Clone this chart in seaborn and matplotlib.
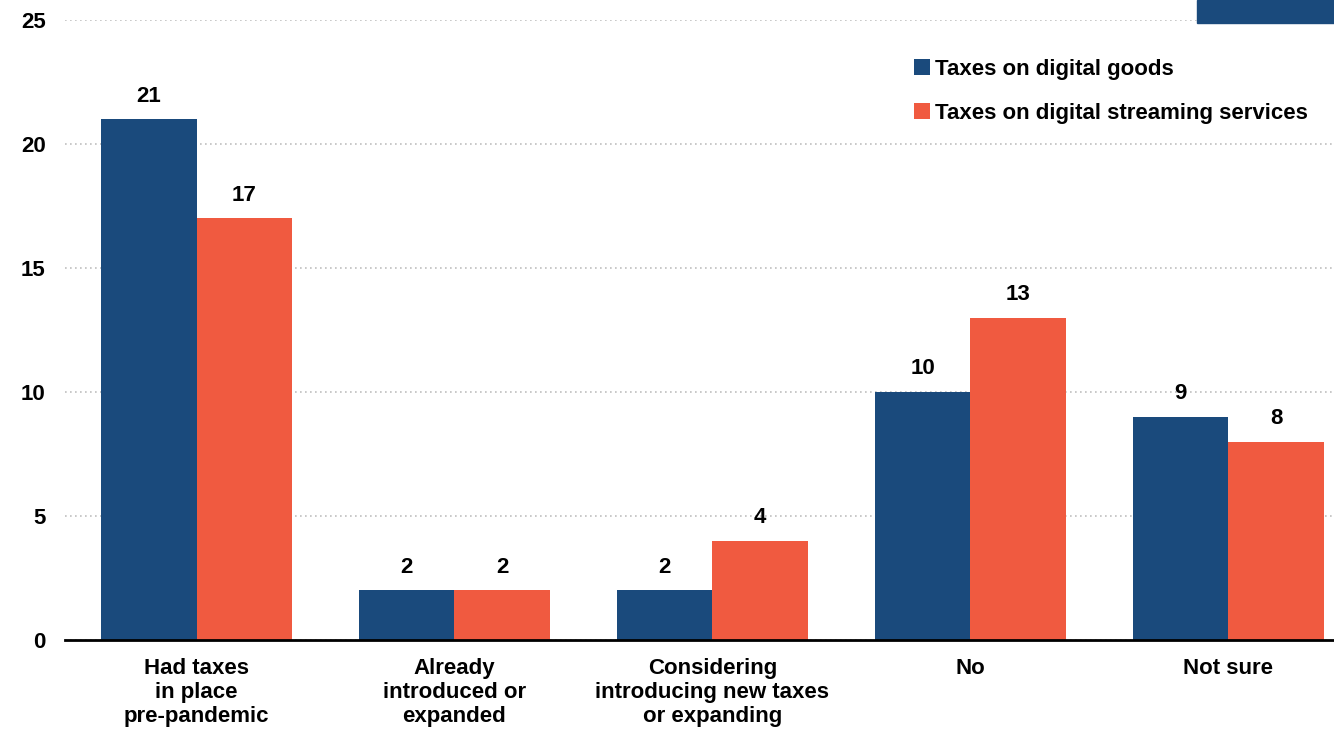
import pandas as pd
import matplotlib
matplotlib.use("Agg")
import matplotlib.pyplot as plt
import seaborn as sns
from matplotlib.patches import Rectangle

# ==================== data ====================
CATEGORIES = [
    "Had taxes\nin place\npre-pandemic",
    "Already\nintroduced or\nexpanded",
    "Considering\nintroducing new taxes\nor expanding",
    "No",
    "Not sure",
]
SERIES = ["Taxes on digital goods", "Taxes on digital streaming services"]
GOODS = [21, 2, 2, 10, 9]
STREAMING = [17, 2, 4, 13, 8]
Y_TICKS = [0, 5, 10, 15, 20, 25]

COLORS = ["#1a4a7c", "#f05a40"]
FS = 16

df = pd.DataFrame({
    "category": CATEGORIES * 2,
    "series": [SERIES[0]] * len(CATEGORIES) + [SERIES[1]] * len(CATEGORIES),
    "value": GOODS + STREAMING,
})

# ==================== style ====================
sns.set_style("white")
plt.rcParams["font.family"] = ["Liberation Sans", "DejaVu Sans"]
plt.rcParams["font.weight"] = "bold"
for k in ["text.color", "axes.labelcolor", "xtick.color", "ytick.color"]:
    plt.rcParams[k] = "black"

fig = plt.figure(figsize=(13.34, 7.33), dpi=100)
ax = fig.add_axes([0.0487, 0.1269, 0.9513, 0.8458])

sns.barplot(data=df, x="category", y="value", hue="series", palette=COLORS,
            saturation=1, width=0.74, linewidth=0, ax=ax, legend=True)

for cont in ax.containers:
    ax.bar_label(cont, padding=9, fontsize=FS, fontweight="bold", color="black")

ax.set_ylim(0, 25)
ax.set_xlim(-0.51, 4.41)
ax.set_yticks(Y_TICKS)
ax.yaxis.grid(True, linestyle=(0, (1, 2)), color="#bfbfbf", linewidth=1.2)
ax.set_axisbelow(True)
ax.set_xlabel("")
ax.set_ylabel("")
for s in ["top", "right", "left"]:
    ax.spines[s].set_visible(False)
ax.spines["bottom"].set_color("black")
ax.spines["bottom"].set_linewidth(2)
ax.tick_params(axis="both", length=0, labelsize=FS)
ax.tick_params(axis="y", pad=14)
ax.tick_params(axis="x", pad=13)
for lbl in ax.get_xticklabels() + ax.get_yticklabels():
    lbl.set_fontweight("bold")
for lbl in ax.get_xticklabels():
    lbl.set_linespacing(1.2)

leg = ax.legend(loc="upper right", bbox_to_anchor=(0.995, 0.97), frameon=False,
                handlelength=0.75, handleheight=0.75, handletextpad=0.2,
                labelspacing=1.05, prop={"weight": "bold", "size": FS})

# logo fragment in the top right corner
fig.patches.append(Rectangle((1197 / 1334, 1 - 23 / 733), 137 / 1334, 23 / 733,
                             transform=fig.transFigure, color="#1a4a7c"))

fig.savefig("out.png", dpi=100)
